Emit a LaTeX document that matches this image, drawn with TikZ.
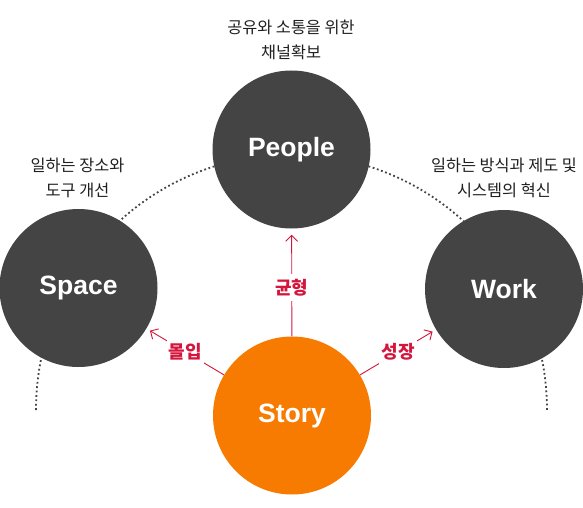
\documentclass[tikz,border=0pt]{standalone}
\usepackage{fontspec}
\setmainfont{Liberation Sans}
\newfontfamily\krfont{Noto Sans CJK KR}
\usetikzlibrary{arrows.meta}
\definecolor{ballgray}{HTML}{444444}
\definecolor{ballorange}{HTML}{F77B00}
\definecolor{linkred}{HTML}{D4163C}

\begin{document}
\begin{tikzpicture}[x=1pt,y=1pt,
  ball/.style={circle,fill=ballgray,text=white,minimum size=158pt,inner sep=0pt,
    font=\fontsize{26.5}{30}\selectfont\bfseries},
  note/.style={align=center,text=black!88,font=\krfont\fontsize{16.3}{25}\selectfont},
  link/.style={draw=linkred,line width=.9pt,-{Straight Barb[length=6pt,width=12pt]}},
  tag/.style={fill=white,text=linkred,inner xsep=2pt,inner ysep=5pt,
    font=\krfont\bfseries\fontsize{18}{20}\selectfont}]
\useasboundingbox (0,0) rectangle (583,507);
% dotted ring behind the balls
\draw[ballgray,line width=1.8pt,dash pattern=on 1.8pt off 2.6pt] (36,97) arc (180:0:255.5);
\node[ball] (people) at (291.5,357.5) {People};
\node[ball] (space) at (78.5,219) {Space};
\node[ball] (work) at (504,218) {Work};
\node[ball,fill=ballorange] (story) at (292,91.5) {Story};
\node[note] (peopleNote) at (291,467.5) {공유와 소통을 위한\\채널확보};
\node[note] (spaceNote) at (77.5,329.5) {일하는 장소와\\도구 개선};
\node[note] (workNote) at (504,329.5) {일하는 방식과 제도 및\\시스템의 혁신};
\draw[link,shorten >=6pt] (story) -- node[tag,pos=.45] {균형} (people);
\draw[link,shorten >=4pt] (story) -- node[tag] {몰입} (space);
\draw[link,shorten >=4pt] (story) -- node[tag] {성장} (work);
\end{tikzpicture}
\end{document}
